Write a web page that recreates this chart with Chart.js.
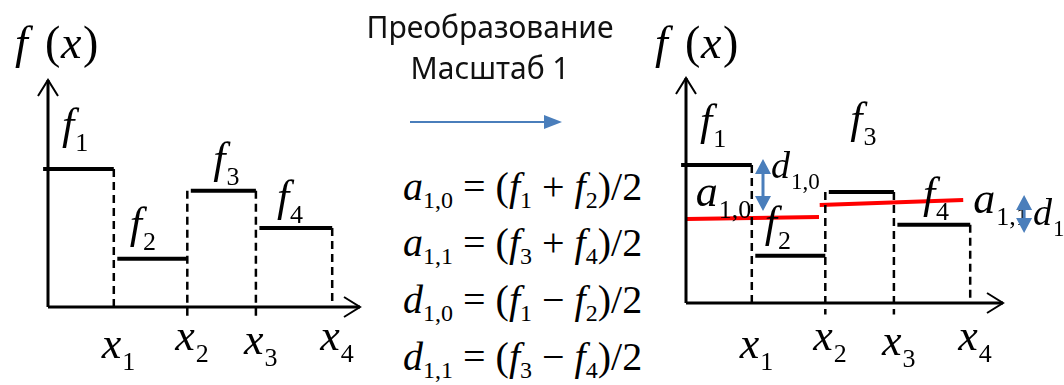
<!DOCTYPE html>
<html>
<head>
<meta charset="utf-8">
<script src="https://cdn.jsdelivr.net/npm/chart.js@4"></script>
<style>
  body { margin: 0; background: #fff; width: 1064px; height: 385px; overflow: hidden; position: relative; }
  canvas { position: absolute; top: 0; }
  #left { left: 0; }
  #right { left: 640px; }
  .title { position: absolute; left: 330px; width: 320px; text-align: center; font-family: "Noto Sans", sans-serif; font-size: 30px; color: #111; }
  .eq { position: absolute; left: 403px; font-family: "Liberation Serif", serif; font-size: 40px; line-height: 44px; color: #000; white-space: nowrap; }
  .eq i { font-style: italic; }
  .eq sub { font-size: 24px; vertical-align: -8px; line-height: 0; }
  svg { position: absolute; left: 0; top: 0; }
</style>
</head>
<body>
<svg width="1064" height="385">
  <line x1="410" y1="122" x2="546" y2="122" stroke="#4a7ebb" stroke-width="2"/>
  <polygon points="544,115 562,122 544,129" fill="#4a7ebb"/>
</svg>
<div class="eq" style="top:165px"><i>a</i><sub>1,0</sub> = (<i>f</i><sub>1</sub> + <i>f</i><sub>2</sub>)/2</div>
<div class="eq" style="top:221px"><i>a</i><sub>1,1</sub> = (<i>f</i><sub>3</sub> + <i>f</i><sub>4</sub>)/2</div>
<div class="eq" style="top:278px"><i>d</i><sub>1,0</sub> = (<i>f</i><sub>1</sub> − <i>f</i><sub>2</sub>)/2</div>
<div class="eq" style="top:335px"><i>d</i><sub>1,1</sub> = (<i>f</i><sub>3</sub> − <i>f</i><sub>4</sub>)/2</div>

<canvas id="left" width="380" height="385"></canvas>
<canvas id="right" width="424" height="385"></canvas>

<script>
// step edges x0..x4 and levels f1..f4
const xEdges = [-0.07, 0.94, 1.99, 2.97, 4.06];
const tickLabels = ["1", "2", "3", "4"];
const levelNames = ["1", "2", "3", "4"];
const leftLevels = [6.0, 2.1, 5.05, 3.43];
const rightLevels = [6.0, 2.05, 4.83, 3.4];
// red averages (start, end) on the right
const avgLine0 = [3.65, 3.74];
const avgLine1 = [4.26, 4.48];
const avgSpanX0 = [0.01, 1.9];
const avgSpanX1 = [1.91, 3.96];
// blue detail arrows
const detailX = [1.1, 4.83];
const detailTop = [6.26, 4.7];
const detailBottom = [4.0, 3.04];
const titleLines = ["Преобразование", "Масштаб 1"];

const PX_X = 70, PX_Y = 23;
const serif = '"Liberation Serif", serif';

const drawSym = (ctx, x, y, main, sub, size) => {
    ctx.fillStyle = "#000";
    ctx.textBaseline = "alphabetic";
    ctx.font = "italic " + size + "px " + serif;
    ctx.fillText(main, x, y);
    const w = ctx.measureText(main).width;
    ctx.font = Math.round(size * 0.6) + "px " + serif;
    ctx.fillText(sub, x + w + 1, y + size * 0.28);
};

const makeChart = (id, levels, originX, originY, width, opts) => {
    const xmin = -originX / PX_X, xmax = (width - originX) / PX_X;
    const ymax = originY / PX_Y, ymin = -(385 - originY) / PX_Y;
    const datasets = [];
    levels.forEach((v, i) => {
        datasets.push({
            data: [{ x: xEdges[i] + (i ? 0.05 : 0), y: v }, { x: xEdges[i + 1], y: v }],
            borderColor: "#000", borderWidth: 4,
        });
    });
    for (let i = 1; i < xEdges.length; i++) {
        const top = Math.max(levels[i - 1], levels[i] || 0);
        const bottom = (i === 2 || i === 3) ? -0.5 : 0;
        datasets.push({
            data: [{ x: xEdges[i], y: top }, { x: xEdges[i], y: bottom }],
            borderColor: "#000", borderWidth: 2.5, borderDash: [8, 5],
        });
    }
    (opts.extra || []).forEach(d => datasets.push(d));

    const axesPlugin = {
        id: "axes",
        afterDraw: (chart) => {
            const ctx = chart.ctx;
            const sx = chart.scales.x, sy = chart.scales.y;
            const ox = sx.getPixelForValue(0), oy = sy.getPixelForValue(0);
            ctx.save();
            ctx.strokeStyle = "#000";
            ctx.lineWidth = 3;
            ctx.beginPath();
            ctx.moveTo(ox, oy);
            ctx.lineTo(ox, opts.yTop);
            ctx.moveTo(ox, oy);
            ctx.lineTo(opts.xRight, oy);
            ctx.stroke();
            ctx.lineWidth = 2;
            ctx.beginPath();
            ctx.moveTo(ox - 10, opts.yTop + 16);
            ctx.lineTo(ox, opts.yTop);
            ctx.lineTo(ox + 10, opts.yTop + 16);
            ctx.moveTo(opts.xRight - 16, oy - 10);
            ctx.lineTo(opts.xRight, oy);
            ctx.lineTo(opts.xRight - 16, oy + 10);
            ctx.stroke();

            // f(x)
            const fx = opts.fxLeft, fy = 58;
            ctx.fillStyle = "#000";
            ctx.font = "italic 46px " + serif;
            ctx.fillText("f", fx, fy);
            ctx.fillText("x", fx + 46, fy);
            ctx.font = "46px " + serif;
            ctx.fillText("(", fx + 30, fy);
            ctx.fillText(")", fx + 68, fy);

            // tick labels
            xEdges.slice(1).forEach((v, i) => {
                drawSym(ctx, sx.getPixelForValue(v) - 12, opts.tickBase[i], "x", tickLabels[i], 44);
            });
            // level labels
            levels.forEach((v, i) => {
                const [dx, dy] = opts.labelOff[i];
                drawSym(ctx, sx.getPixelForValue(xEdges[i]) + dx, sy.getPixelForValue(v) - dy, "f", levelNames[i], 44);
            });
            if (opts.after) opts.after(chart, ctx, sx, sy);
            ctx.restore();
        },
    };

    return new Chart(document.getElementById(id), {
        type: "scatter",
        data: { datasets },
        options: {
            responsive: false,
            animation: false,
            layout: { padding: 0 },
            showLine: true,
            elements: { point: { radius: 0 }, line: { tension: 0 } },
            plugins: { legend: { display: false }, tooltip: { enabled: false } },
            scales: {
                x: { type: "linear", min: xmin, max: xmax, display: false },
                y: { type: "linear", min: ymin, max: ymax, display: false },
            },
        },
        plugins: [axesPlugin],
    });
};

makeChart("left", leftLevels, 48, 307, 380, {
    yTop: 80, xRight: 360, fxLeft: 15,
    tickBase: [358, 350, 354, 350],
    labelOff: [[19, 30], [16, 21], [26, 18], [21, 17]],
});

const blueArrow = (ctx, x, y1, y2) => {
    ctx.strokeStyle = "#4a7ebb";
    ctx.fillStyle = "#4a7ebb";
    ctx.lineWidth = 3;
    ctx.beginPath();
    ctx.moveTo(x, y1 + 12);
    ctx.lineTo(x, y2 - 12);
    ctx.stroke();
    ctx.beginPath();
    ctx.moveTo(x, y1); ctx.lineTo(x - 8, y1 + 15); ctx.lineTo(x + 8, y1 + 15); ctx.closePath();
    ctx.moveTo(x, y2); ctx.lineTo(x - 8, y2 - 15); ctx.lineTo(x + 8, y2 - 15); ctx.closePath();
    ctx.fill();
};

makeChart("right", rightLevels, 46, 303, 424, {
    yTop: 78, xRight: 363, fxLeft: 15,
    tickBase: [358, 350, 355, 350],
    labelOff: [[19, 30], [13, 19], [25, 59], [29, 17]],
    extra: [
        { data: [{ x: avgSpanX0[0], y: avgLine0[0] }, { x: avgSpanX0[1], y: avgLine0[1] }], borderColor: "#ff0000", borderWidth: 4 },
        { data: [{ x: avgSpanX1[0], y: avgLine1[0] }, { x: avgSpanX1[1], y: avgLine1[1] }], borderColor: "#ff0000", borderWidth: 4 },
    ],
    after: (chart, ctx, sx, sy) => {
        // a labels
        drawSym(ctx, sx.getPixelForValue(avgSpanX0[0]) + 9, sy.getPixelForValue(avgLine0[0]) - 13, "a", "1,0", 44);
        drawSym(ctx, sx.getPixelForValue(avgSpanX1[1]) + 10, sy.getPixelForValue(avgLine1[1]) + 13, "a", "1,1", 44);
        // d arrows and labels
        detailX.forEach((v, i) => {
            const px = sx.getPixelForValue(v);
            blueArrow(ctx, px, sy.getPixelForValue(detailTop[i]), sy.getPixelForValue(detailBottom[i]));
        });
        drawSym(ctx, sx.getPixelForValue(detailX[0]) + 8, 178, "d", "1,0", 38);
        drawSym(ctx, sx.getPixelForValue(detailX[1]) + 9, 225, "d", "1,1", 38);
    },
});

// title added last, after the math text is laid out
titleLines.forEach((t, i) => {
    const d = document.createElement("div");
    d.className = "title";
    d.style.top = (6 + i * 41) + "px";
    d.textContent = t;
    document.body.appendChild(d);
});
</script>
</body>
</html>
